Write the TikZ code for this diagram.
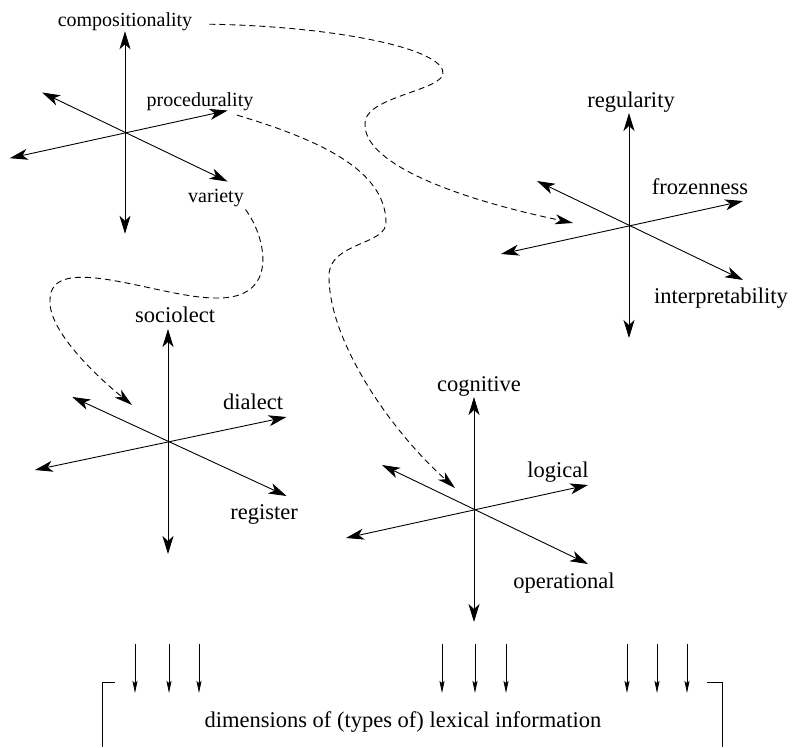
\documentclass[tikz,border=0pt]{standalone}
\usepackage{fontspec}
\setmainfont{Liberation Serif}
\usetikzlibrary{arrows.meta,calc}
\begin{document}
\begin{tikzpicture}[x=1pt,y=-1pt,
  axis/.style={line width=0.9pt,
    {Stealth[length=18pt,width=11pt,inset=5pt]}-{Stealth[length=18pt,width=11pt,inset=5pt]}},
  link/.style={line width=0.9pt, dash pattern=on 6pt off 4pt,
    -{Stealth[length=18pt,width=10pt,inset=5pt]}},
  feed/.style={line width=0.8pt, -{Stealth[length=12pt,width=5pt,inset=2pt]}},
  bracket/.style={line width=0.8pt},
  biglabel/.style={font=\fontsize{22.5}{27}\selectfont, inner sep=0pt, anchor=base},
  smalllabel/.style={font=\fontsize{20}{24}\selectfont, inner sep=0pt, anchor=base},
  pics/axes/.style={code={
    \draw[axis] (0,-113) -- (0,112);
    \draw[axis] (-92,-45) -- (114,54);
    \draw[axis] (-128,28) -- (114,-25);
  }}
]
\useasboundingbox (0,0) rectangle (792,747);

% centres of the four axis systems
\coordinate (tl) at (125,133);
\coordinate (tr) at (629,226);
\coordinate (ml) at (168,442);
\coordinate (mr) at (474,510);

\pic[scale=0.9] at (tl) {axes};
\pic at (tr) {axes};
\pic[xscale=1.04] at (ml) {axes};
\pic at (mr) {axes};

% axis labels
\node[smalllabel] (comp)   at (125,26)  {compositionality};
\node[smalllabel] (proc)   at (200,106) {procedurality};
\node[smalllabel] (vari)   at (216,202) {variety};

\node[biglabel] (regu)   at (631,107) {regularity};
\node[biglabel] (froz)   at (700,194) {frozenness};
\node[biglabel] (interp) at (721,303) {interpretability};

\node[biglabel] (socio)  at (175,322) {sociolect};
\node[biglabel] (dial)   at (253,409) {dialect};
\node[biglabel] (regi)   at (264,519) {register};

\node[biglabel] (cogn)   at (479,391) {cognitive};
\node[biglabel] (logi)   at (558,477) {logical};
\node[biglabel] (oper)   at (564,588) {operational};

% dashed links from the dimensions to the refined axis systems
\draw[link] ($(comp.east)+(17,3)$)
  .. controls (330,26) and (448,48) .. (443,75)
  .. controls (435,92) and (362,98) .. (365,125)
  .. controls (365,160) and (440,195) .. ($(tr)+(-56,-3)$);

\draw[link] ($(proc.south)+(37,4.6)$)
  .. controls (320,140) and (385,170) .. (386,222)
  .. controls (387,245) and (330,242) .. (329,275)
  .. controls (328,340) and (390,430) .. ($(mr)+(-19,-22)$);

\draw[link] ($(vari.south east)+(1.5,3)$)
  .. controls (265,235) and (282,300) .. (215,298)
  .. controls (160,298) and (50,250) .. (50,300)
  .. controls (48,330) and (95,375) .. ($(ml)+(-36,-37)$);

% bottom box and the arrows feeding it
\node[biglabel] (info) at (403,727) {dimensions of (types of) lexical information};
\draw[bracket] (115,682) -| (102,747);
\draw[bracket] (707,682) -| (722,747);

\foreach \x in {135,169,199,442,475,506,627,657,687}
  \draw[feed] (\x,644) -- (\x,693);
\end{tikzpicture}
\end{document}
